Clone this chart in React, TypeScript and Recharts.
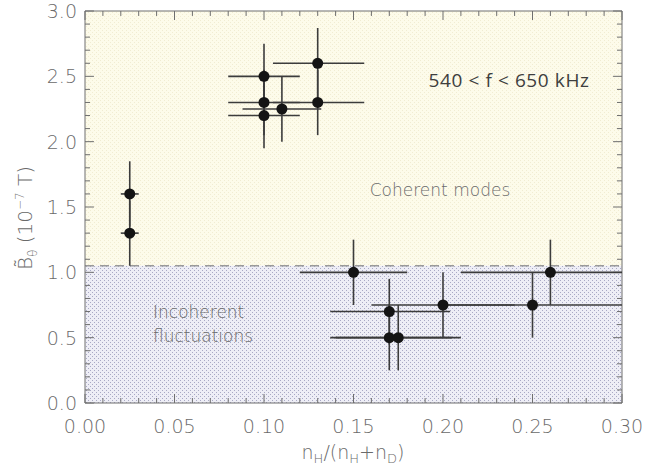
import React from 'react';
import { ScatterChart, Scatter, XAxis, YAxis, ErrorBar, ReferenceArea, ReferenceLine } from 'recharts';

// measurements: n_H/(n_H+n_D) vs B_theta amplitude
const ratio = [0.025, 0.025, 0.1, 0.1, 0.1, 0.11, 0.13, 0.13, 0.15, 0.17, 0.17, 0.175, 0.2, 0.25, 0.26];
const bTheta = [1.6, 1.3, 2.5, 2.3, 2.2, 2.25, 2.6, 2.3, 1.0, 0.7, 0.5, 0.5, 0.75, 0.75, 1.0];
const ratioErr: (number | [number, number])[] = [
  0.005, 0.005, 0.02, 0.02, 0.02, 0.022, [0.025, 0.026], [0.025, 0.026],
  0.03, [0.033, 0.034], [0.033, 0.035], 0.035, 0.04, [0.05, 0.05], [0.05, 0.04],
];
const bThetaErr = [0.25, 0.25, 0.25, 0.25, 0.25, 0.25, 0.27, 0.25, 0.25, 0.25, 0.25, 0.25, 0.25, 0.25, 0.25];

const threshold = 1.05;

const xTicks = [
  0, 0.01, 0.02, 0.03, 0.04, 0.05, 0.06, 0.07, 0.08, 0.09, 0.1, 0.11, 0.12, 0.13, 0.14, 0.15,
  0.16, 0.17, 0.18, 0.19, 0.2, 0.21, 0.22, 0.23, 0.24, 0.25, 0.26, 0.27, 0.28, 0.29, 0.3,
];
const yTicks = [
  0, 0.1, 0.2, 0.3, 0.4, 0.5, 0.6, 0.7, 0.8, 0.9, 1.0, 1.1, 1.2, 1.3, 1.4, 1.5,
  1.6, 1.7, 1.8, 1.9, 2.0, 2.1, 2.2, 2.3, 2.4, 2.5, 2.6, 2.7, 2.8, 2.9, 3.0,
];
const xMajor = [0, 0.05, 0.1, 0.15, 0.2, 0.25, 0.3];
const yMajor = [0, 0.5, 1.0, 1.5, 2.0, 2.5, 3.0];

const data = ratio.map((x, i) => ({ x, y: bTheta[i], ex: ratioErr[i], ey: bThetaErr[i] }));

const AXIS = '#6e6e6e';
const LABEL = '#6a6a6a';
const thinFont = '"DejaVu Sans", sans-serif';

const isMajor = (v: number, step: number) => Math.abs(v / step - Math.round(v / step)) < 1e-6;

// inward tick lengths, in data units (about 9px / 5px)
const xTickLen = (v: number) => (isMajor(v, 0.05) ? 0.069 : 0.038);
const yTickLen = (v: number) => (isMajor(v, 0.5) ? 0.005 : 0.0028);

const BottomTick = ({ x, y, payload }: any) => (
  <text x={x} y={y + 30} textAnchor="middle" fill={LABEL} fontSize={19} fontFamily={thinFont} fontWeight={200}>
    {payload.value.toFixed(2)}
  </text>
);

const LeftTick = ({ x, y, payload }: any) => (
  <text x={x - 8} y={y + 7} textAnchor="end" fill={LABEL} fontSize={19} fontFamily={thinFont} fontWeight={200}>
    {payload.value.toFixed(1)}
  </text>
);

const Dot = (props: any) => <circle cx={props.cx} cy={props.cy} r={5.5} fill="#141414" />;

export default function App() {
  return (
    <div style={{ position: 'absolute', left: 0, top: 0, width: 649, height: 472, background: '#fff' }}>
      <svg width={0} height={0} style={{ position: 'absolute' }}>
        <defs>
          <pattern id="warmDots" width={4} height={4} patternUnits="userSpaceOnUse">
            <rect width={4} height={4} fill="#fdfbea" />
            <rect x={0} y={0} width={1} height={1} fill="#f1ecd2" />
            <rect x={2} y={2} width={1} height={1} fill="#f1ecd2" />
          </pattern>
          <pattern id="coolDots" width={4} height={4} patternUnits="userSpaceOnUse">
            <rect width={4} height={4} fill="#eeeef6" />
            <rect x={0} y={0} width={1} height={1} fill="#a9a9c4" />
            <rect x={2} y={2} width={1} height={1} fill="#a9a9c4" />
          </pattern>
        </defs>
      </svg>
      <ScatterChart width={649} height={472} margin={{ top: 11, right: 27, bottom: 0, left: 0 }}>
        <XAxis
          dataKey="x"
          type="number"
          domain={[0, 0.3]}
          allowDataOverflow
          ticks={xMajor}
          interval={0}
          height={69}
          tickSize={0}
          tickMargin={0}
          tickLine={false}
          tick={<BottomTick />}
          axisLine={false}
        />
        <YAxis
          dataKey="y"
          type="number"
          domain={[0, 3]}
          allowDataOverflow
          ticks={yMajor}
          interval={0}
          width={85}
          tickSize={0}
          tickMargin={0}
          tickLine={false}
          tick={<LeftTick />}
          axisLine={false}
        />
        <ReferenceArea x1={0} x2={0.3} y1={threshold} y2={3} fill="url(#warmDots)" fillOpacity={1} />
        <ReferenceArea x1={0} x2={0.3} y1={0} y2={threshold} fill="url(#coolDots)" fillOpacity={1} />
        <ReferenceLine y={threshold} stroke="#9a9a9a" strokeWidth={1.5} strokeDasharray="9 6" />
        {xTicks.map((v) => (
          <ReferenceLine key={`xb${v}`} segment={[{ x: v, y: 0 }, { x: v, y: xTickLen(v) }]} stroke={AXIS} />
        ))}
        {xTicks.map((v) => (
          <ReferenceLine key={`xt${v}`} segment={[{ x: v, y: 3 }, { x: v, y: 3 - xTickLen(v) }]} stroke={AXIS} />
        ))}
        {yTicks.map((v) => (
          <ReferenceLine key={`yl${v}`} segment={[{ x: 0, y: v }, { x: yTickLen(v), y: v }]} stroke={AXIS} />
        ))}
        {yTicks.map((v) => (
          <ReferenceLine key={`yr${v}`} segment={[{ x: 0.3, y: v }, { x: 0.3 - yTickLen(v), y: v }]} stroke={AXIS} />
        ))}
        <ReferenceLine x={0} stroke={AXIS} />
        <ReferenceLine x={0.3} stroke={AXIS} />
        <ReferenceLine y={0} stroke={AXIS} />
        <ReferenceLine y={3} stroke={AXIS} />
        <Scatter data={data} shape={<Dot />} isAnimationActive={false}>
          <ErrorBar dataKey="ex" direction="x" width={0} stroke="#3c3c3c" strokeWidth={1.6} isAnimationActive={false} />
          <ErrorBar dataKey="ey" direction="y" width={0} stroke="#3c3c3c" strokeWidth={1.6} isAnimationActive={false} />
        </Scatter>
      </ScatterChart>
      <svg width={649} height={472} style={{ position: 'absolute', left: 0, top: 0, pointerEvents: 'none' }}>
        <text x={509} y={87} textAnchor="middle" fill="#3e3e3e" fontSize={19} letterSpacing={0.6} fontFamily='"Open Sans", sans-serif'>
          540 &lt; f &lt; 650 kHz
        </text>
        <text x={440} y={196} textAnchor="middle" fill={LABEL} fontSize={17} fontFamily={thinFont} fontWeight={200}>
          Coherent modes
        </text>
        <text x={153} y={318} fill={LABEL} fontSize={17} fontFamily={thinFont} fontWeight={200}>
          Incoherent
        </text>
        <text x={153} y={342} fill={LABEL} fontSize={17} fontFamily={thinFont} fontWeight={200}>
          fluctuations
        </text>
        <text x={353} y={459} textAnchor="middle" fill={LABEL} fontSize={19} fontFamily={thinFont} fontWeight={200}>
          n<tspan fontSize={13} dy={4}>H</tspan>
          <tspan dy={-4}>/(n</tspan>
          <tspan fontSize={13} dy={4}>H</tspan>
          <tspan dy={-4}>+n</tspan>
          <tspan fontSize={13} dy={4}>D</tspan>
          <tspan dy={-4}>)</tspan>
        </text>
        <text
          x={0}
          y={0}
          transform="translate(32 218) rotate(-90)"
          textAnchor="middle"
          fill={LABEL}
          fontSize={20}
          fontFamily={thinFont}
          fontWeight={200}
        >
          B&#771;<tspan fontSize={12} dy={5}>θ</tspan>
          <tspan dy={-5}> (10</tspan>
          <tspan fontSize={12} dy={-8}>−7</tspan>
          <tspan dy={8}> T)</tspan>
        </text>
      </svg>
    </div>
  );
}
